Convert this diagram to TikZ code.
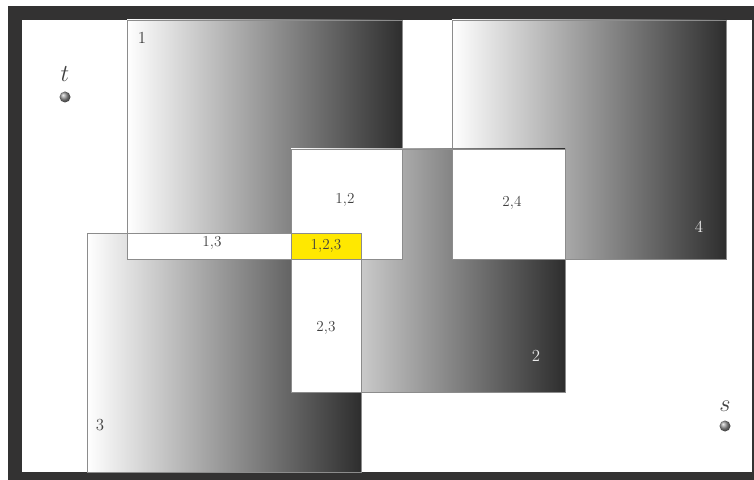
\documentclass[tikz,border=0pt]{standalone}
\usetikzlibrary{positioning}
\definecolor{framegray}{HTML}{333232}
\definecolor{edgegray}{HTML}{8C8C8C}
\definecolor{labelgray}{HTML}{404040}
\definecolor{tripleyellow}{HTML}{FFE800}

\begin{document}
\begin{tikzpicture}[
    x=0.03cm, y=-0.03cm,
    setbox/.style={left color=white, right color=black!82, draw=edgegray, line width=0.5pt},
    overlap/.style={fill=white, draw=edgegray, line width=0.5pt},
    setlabel/.style={font=\Large, text=labelgray},
    darklabel/.style={font=\Large, text=white!92!black},
    pairlabel/.style={font=\fontsize{13}{15}\selectfont, text=labelgray},
    vertex/.style={circle, inner sep=0pt, minimum size=3.3mm, ball color=gray!85},
    vertexname/.style={font=\huge, inner sep=0pt, text=labelgray}
  ]
    \useasboundingbox (0,0) rectangle (754,480);
    % frame and white field
    \fill[framegray] (8,6) rectangle (754,480);
    \fill[white] (22,20) rectangle (752,472);

    % the four sets
    \shade[setbox] (127,20) rectangle (402,259);
    \shade[setbox] (452,20) rectangle (726,259);
    \shade[setbox] (291,149) rectangle (565,392);
    \shade[setbox] (87,233) rectangle (361,472);

    % pairwise overlaps
    \filldraw[overlap] (291,149) rectangle (402,259);
    \filldraw[overlap] (452,149) rectangle (565,259);
    \filldraw[overlap] (127,233) rectangle (361,259);
    \filldraw[overlap] (291,233) rectangle (361,392);
    \filldraw[fill=tripleyellow, draw=edgegray, line width=0.5pt] (291,233) rectangle (361,259);

    % set labels
    \node[setlabel] (one) at (142,38) {1};
    \node[darklabel] (two) at (536,356) {2};
    \node[setlabel] (three) at (100,425) {3};
    \node[darklabel] (four) at (699,227) {4};

    \node[pairlabel] (onetwo) at (345,200) {1,2};
    \node[pairlabel] (twofour) at (512,203) {2,4};
    \node[pairlabel] (onethree) at (212,243) {1,3};
    \node[pairlabel] (twothree) at (326,328) {2,3};
    \node[pairlabel] (all) at (326,246) {1,2,3};

    % terminals
    \node[vertex] (t) at (65,97) {};
    \node[vertexname, above=3mm of t] (tname) {$t$};
    \node[vertex] (s) at (725,426) {};
    \node[vertexname, above=2.7mm of s] (sname) {$s$};
  \end{tikzpicture}
\end{document}
